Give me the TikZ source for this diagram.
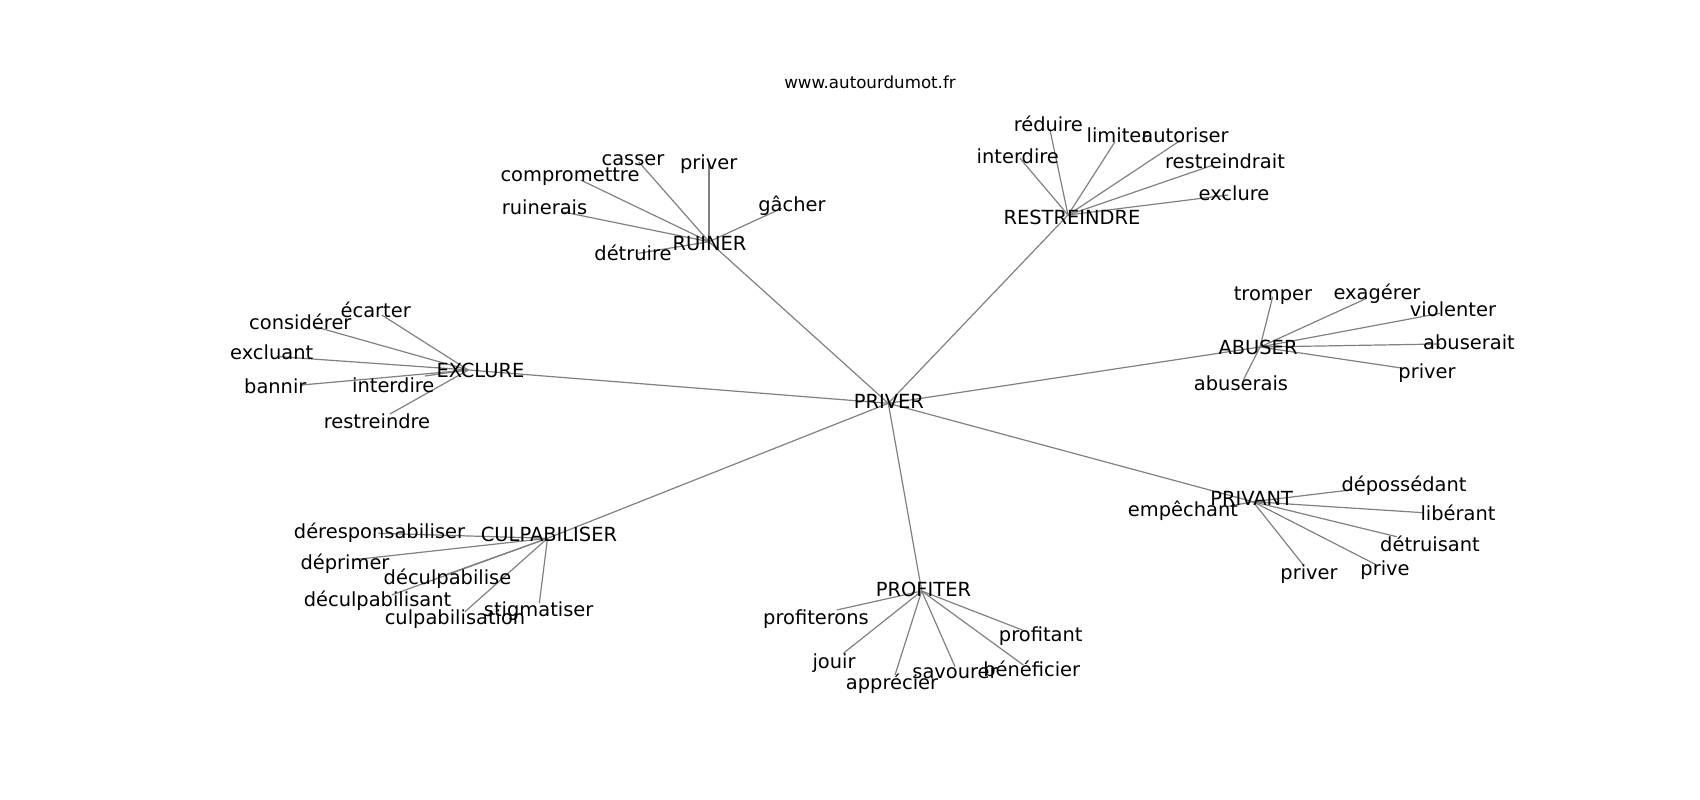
\documentclass[tikz,border=0pt]{standalone}
\usepackage{fontspec}
\setmainfont{DejaVu Sans}
\definecolor{edgegray}{RGB}{128,128,128}
\begin{document}
\begin{tikzpicture}[x=1pt,y=-1pt,
  lbl/.style={font=\fontsize{19.44}{22}\selectfont, inner sep=0pt, text height=14.8pt, text depth=0pt, anchor=center},
  ttl/.style={font=\fontsize{16.67}{19}\selectfont, inner sep=0pt, text height=12.7pt, text depth=0pt, anchor=center},
  edg/.style={draw=edgegray, line width=1.2pt}]
\useasboundingbox (0,0) rectangle (1700,800);
% hub positions
\coordinate (priver) at (888.3,403.3);
\coordinate (ruiner) at (709,241.7);
\coordinate (restreindre) at (1068,215);
\coordinate (exclure) at (468.3,370);
\coordinate (abuser) at (1260,347);
\coordinate (privant) at (1253,501.7);
\coordinate (profiter) at (921.7,591);
\coordinate (culpa) at (547.5,538.3);
% leaf positions
\coordinate (r1) at (638.6,161.7);
\coordinate (r2) at (709,164);
\coordinate (r3) at (580.6,180);
\coordinate (r4) at (562,211.7);
\coordinate (r5) at (781.7,208.3);
\coordinate (r6) at (638.6,253.3);
\coordinate (s1) at (1050,130);
\coordinate (s2) at (1115,141.7);
\coordinate (s3) at (1180,140.7);
\coordinate (s4) at (1020,158.3);
\coordinate (s5) at (1213.3,165);
\coordinate (s6) at (1228.3,195);
\coordinate (e1) at (381.7,315);
\coordinate (e2) at (315,326.7);
\coordinate (e3) at (280,356.7);
\coordinate (e4) at (301.7,385);
\coordinate (e5) at (425,376);
\coordinate (e6) at (390,414);
\coordinate (a1) at (1272.7,296.7);
\coordinate (a2) at (1366.7,298.3);
\coordinate (a3) at (1440,313.3);
\coordinate (a4) at (1440,344);
\coordinate (a5) at (1403.3,368.3);
\coordinate (a6) at (1243.3,380);
\coordinate (p1) at (1350,490);
\coordinate (p2) at (1423.3,512.7);
\coordinate (p3) at (1396.7,536.7);
\coordinate (p4) at (1376.7,565);
\coordinate (p5) at (1303.3,565);
\coordinate (p6) at (1226.7,506.7);
\coordinate (f1) at (836.7,610);
\coordinate (f2) at (843.3,653.3);
\coordinate (f3) at (895,675);
\coordinate (f4) at (955,666.7);
\coordinate (f5) at (1023.3,665);
\coordinate (f6) at (1026.7,631.7);
\coordinate (c1) at (378.3,533.3);
\coordinate (c2) at (351.7,560);
\coordinate (c3) at (445,575);
\coordinate (c4) at (391.7,595);
\coordinate (c5) at (465,611.7);
\coordinate (c6) at (539.3,603.3);
% edges
\foreach \h in {ruiner,restreindre,exclure,abuser,privant,profiter,culpa}
  \draw[edg] (priver) -- (\h);
\foreach \l in {r1,r2,r3,r4,r5,r6} \draw[edg] (ruiner) -- (\l);
\foreach \l in {s1,s2,s3,s4,s5,s6} \draw[edg] (restreindre) -- (\l);
\foreach \l in {e1,e2,e3,e4,e5,e6} \draw[edg] (exclure) -- (\l);
\foreach \l in {a1,a2,a3,a4,a5,a6} \draw[edg] (abuser) -- (\l);
\foreach \l in {p1,p2,p3,p4,p5,p6} \draw[edg] (privant) -- (\l);
\foreach \l in {f1,f2,f3,f4,f5,f6} \draw[edg] (profiter) -- (\l);
\foreach \l in {c1,c2,c3,c4,c5,c6} \draw[edg] (culpa) -- (\l);
% title
\node[ttl] (title) at (870,82) {www.autourdumot.fr};
% hub labels
\node[lbl] (Lpriver) at (888.8,401) {PRIVER};
\node[lbl] (Lruiner) at (709.5,243) {RUINER};
\node[lbl] (Lrestreindre) at (1072,217) {RESTREINDRE};
\node[lbl] (Lexclure) at (480.5,369.7) {EXCLURE};
\node[lbl] (Labuser) at (1258,347) {ABUSER};
\node[lbl] (Lprivant) at (1251.7,497.7) {PRIVANT};
\node[lbl] (Lprofiter) at (923.5,588.7) {PROFITER};
\node[lbl] (Lculpa) at (549,534) {CULPABILISER};
% leaf labels
\node[lbl] (Lr1) at (633,158.3) {casser};
\node[lbl] (Lr2) at (708.7,161.7) {priver};
\node[lbl] (Lr3) at (570,174.3) {compromettre};
\node[lbl] (Lr4) at (544.5,207) {ruinerais};
\node[lbl] (Lr5) at (792,204.3) {gâcher};
\node[lbl] (Lr6) at (633,253.3) {détruire};
\node[lbl] (Ls1) at (1048.3,123.7) {réduire};
\node[lbl] (Ls2) at (1118,135) {limiter};
\node[lbl] (Ls3) at (1185,134.7) {autoriser};
\node[lbl] (Ls4) at (1017.8,155.7) {interdire};
\node[lbl] (Ls5) at (1225,161) {restreindrait};
\node[lbl] (Ls6) at (1234,193) {exclure};
\node[lbl] (Le1) at (375.7,310.3) {écarter};
\node[lbl] (Le2) at (300.3,321.7) {considérer};
\node[lbl] (Le3) at (271.7,352) {excluant};
\node[lbl] (Le4) at (275.3,385.7) {bannir};
\node[lbl] (Le5) at (393.3,385.3) {interdire};
\node[lbl] (Le6) at (377,420.6) {restreindre};
\node[lbl] (La1) at (1273,293) {tromper};
\node[lbl] (La2) at (1377,292) {exagérer};
\node[lbl] (La3) at (1453,308.7) {violenter};
\node[lbl] (La4) at (1469,342) {abuserait};
\node[lbl] (La5) at (1427,370.7) {priver};
\node[lbl] (La6) at (1241,383) {abuserais};
\node[lbl] (Lp1) at (1404,484) {dépossédant};
\node[lbl] (Lp2) at (1458,512.7) {libérant};
\node[lbl] (Lp3) at (1430,544) {détruisant};
\node[lbl] (Lp4) at (1385,568.3) {prive};
\node[lbl] (Lp5) at (1309,572) {priver};
\node[lbl] (Lp6) at (1183,509) {empêchant};
\node[lbl] (Lf1) at (816,616.7) {profiterons};
\node[lbl] (Lf2) at (834,660.7) {jouir};
\node[lbl] (Lf3) at (892,682) {apprécier};
\node[lbl] (Lf4) at (955,671) {savourer};
\node[lbl] (Lf5) at (1031.7,669) {bénéficier};
\node[lbl] (Lf6) at (1040.7,634) {profitant};
\node[lbl] (Lc1) at (379.5,531) {déresponsabiliser};
\node[lbl] (Lc2) at (345,562) {déprimer};
\node[lbl] (Lc3) at (447.5,577) {déculpabilise};
\node[lbl] (Lc4) at (377.5,599) {déculpabilisant};
\node[lbl] (Lc5) at (455,617) {culpabilisation};
\node[lbl] (Lc6) at (538.7,609) {stigmatiser};
\end{tikzpicture}
\end{document}
